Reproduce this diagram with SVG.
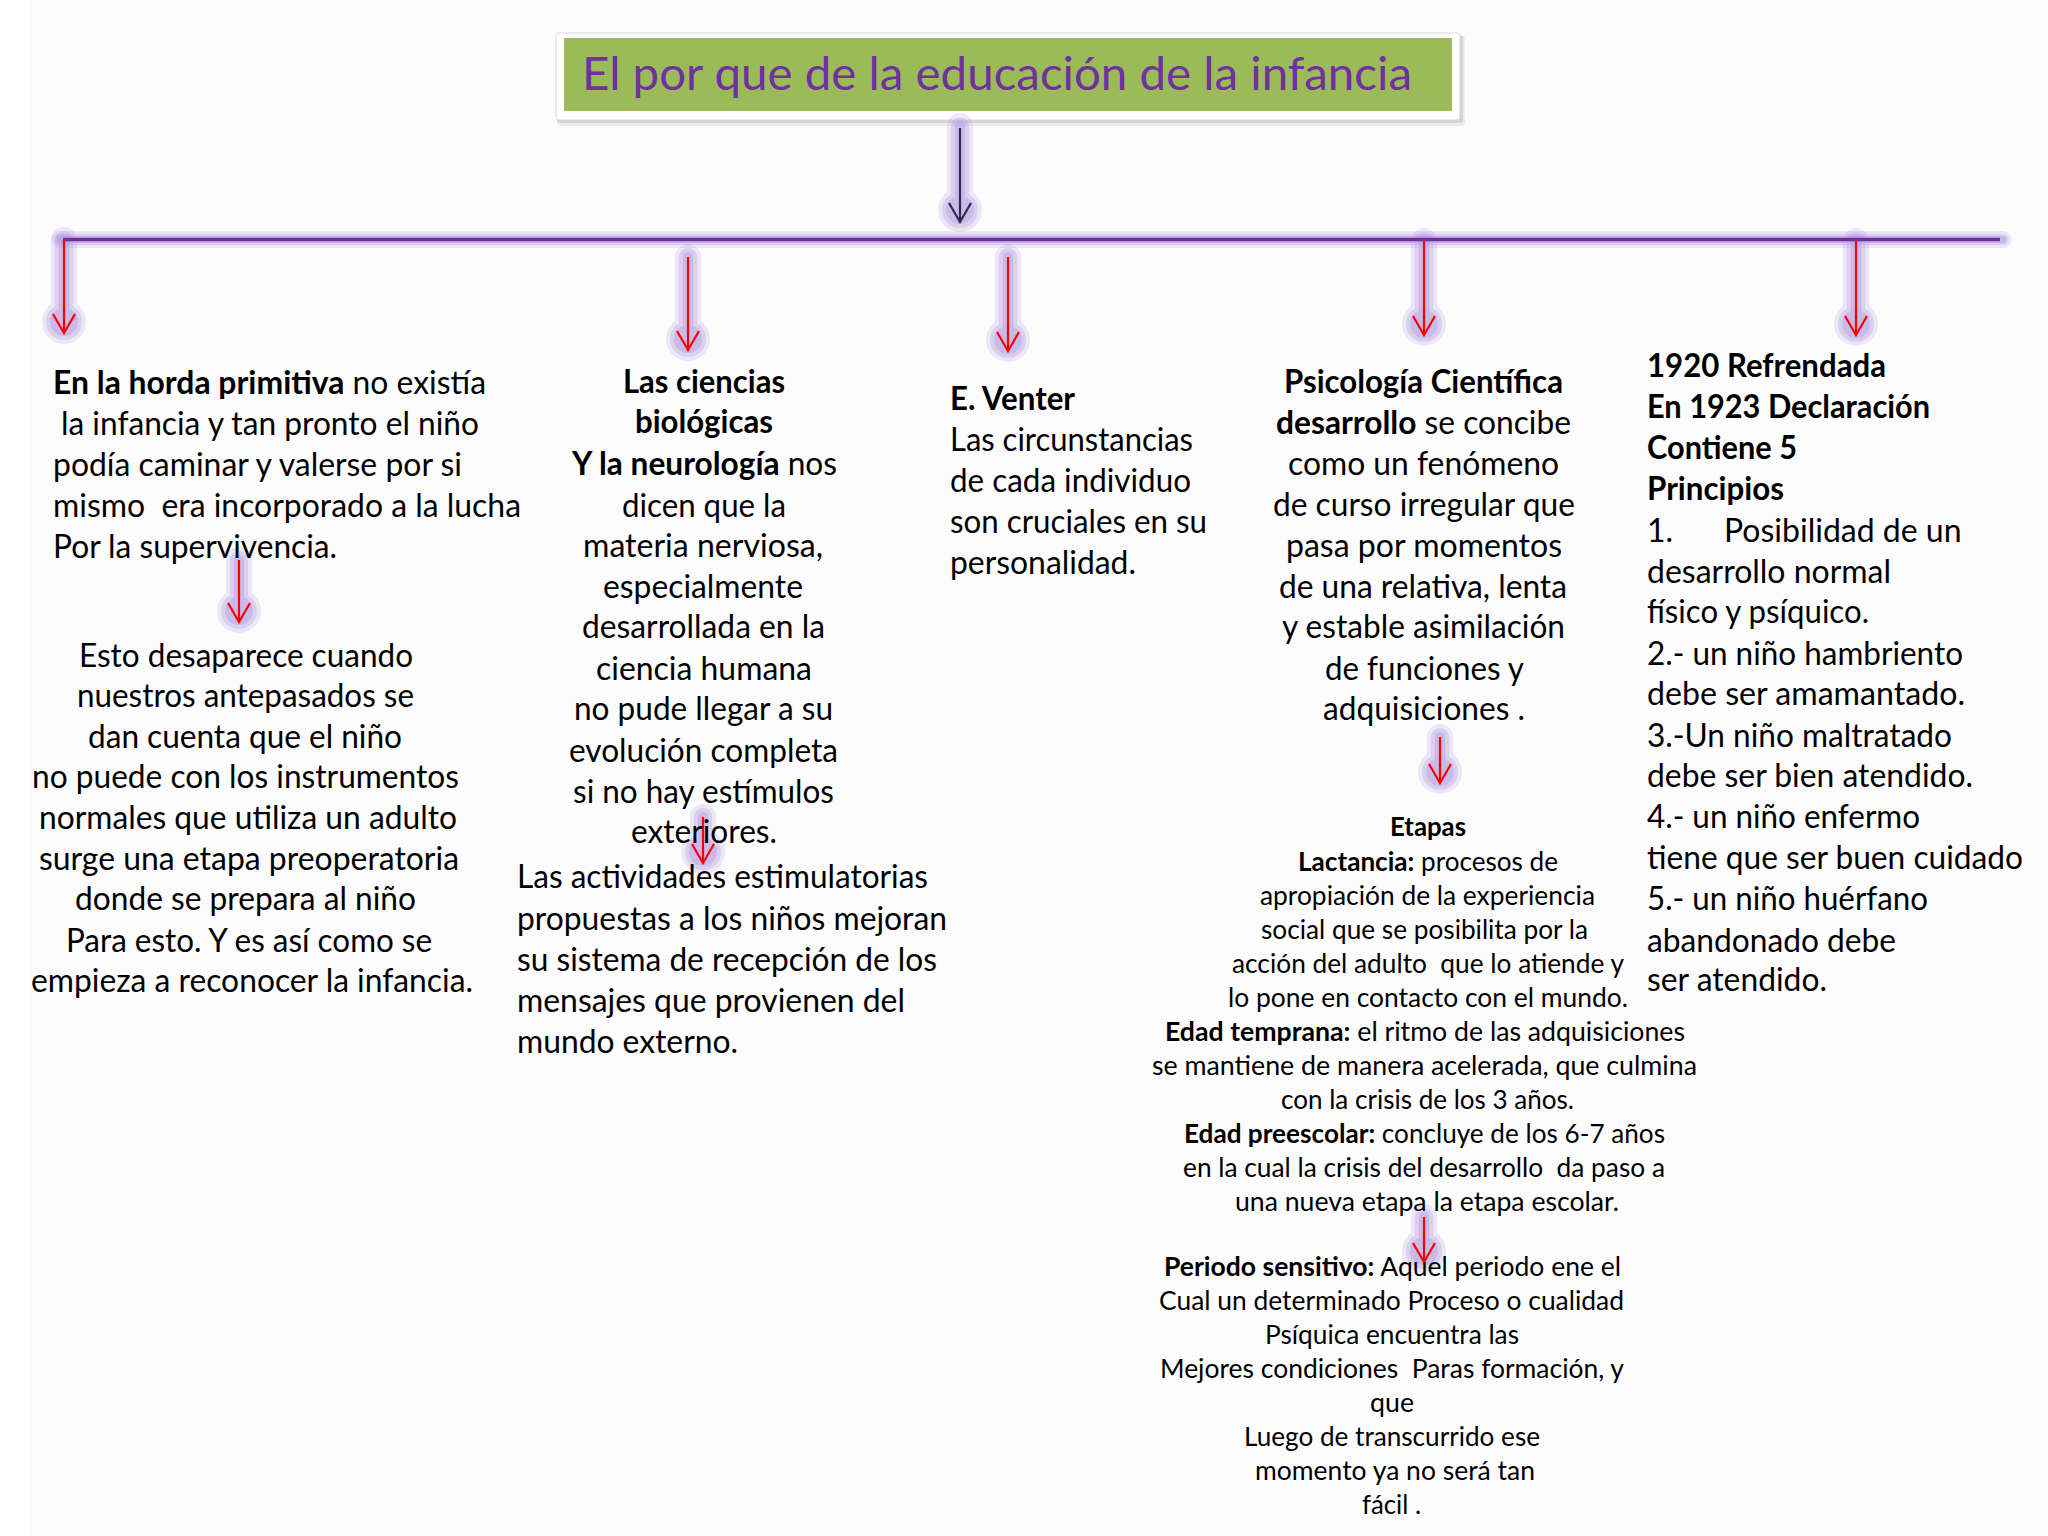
<svg xmlns="http://www.w3.org/2000/svg" xmlns:xlink="http://www.w3.org/1999/xlink" width="2048" height="1536" viewBox="0 0 2048 1536">
<defs>
<style>
text{font-family:Lato,"Liberation Sans",sans-serif;font-size:32px;fill:#000;white-space:pre}
.b{font-weight:700}
.s{font-size:26.5px}
.title{font-size:47px;fill:#7030A0}
.red{stroke:#FF0000;stroke-width:2.2;fill:none}
.dark{stroke:#2F2A4F;stroke-width:2.2;fill:none}
.hline{stroke:#7030A0;stroke-width:3.5;fill:none}
</style>
<g id="gs">
<line x1="960" y1="126" x2="960" y2="218"/>
<circle cx="960" cy="210" r="9"/>
<line x1="64" y1="240" x2="64" y2="330"/>
<circle cx="64" cy="322" r="9"/>
<line x1="688" y1="257" x2="688" y2="347"/>
<circle cx="688" cy="339" r="9"/>
<line x1="1008" y1="257" x2="1008" y2="348"/>
<circle cx="1008" cy="340" r="9"/>
<line x1="1424" y1="241" x2="1424" y2="332"/>
<circle cx="1424" cy="324" r="9"/>
<line x1="1856" y1="241" x2="1856" y2="332"/>
<circle cx="1856" cy="324" r="9"/>
<line x1="239" y1="560" x2="239" y2="619"/>
<circle cx="239" cy="611" r="9"/>
<line x1="703" y1="817" x2="703" y2="860"/>
<circle cx="703" cy="852" r="9"/>
<line x1="1440" y1="737" x2="1440" y2="780"/>
<circle cx="1440" cy="772" r="9"/>
<line x1="1424" y1="1217" x2="1424" y2="1259"/>
<circle cx="1424" cy="1251" r="9"/>
</g>
<line id="hs" x1="60" y1="239.5" x2="2003" y2="239.5"/>
<marker id="ahRed" viewBox="-22 -13 24 26" refX="0" refY="0" markerWidth="24" markerHeight="26" markerUnits="userSpaceOnUse" orient="auto">
<path d="M-19,-11 L0,0 L-19,11" fill="none" stroke="#FF0000" stroke-width="2.2"/>
</marker>
<marker id="ahDark" viewBox="-22 -13 24 26" refX="0" refY="0" markerWidth="24" markerHeight="26" markerUnits="userSpaceOnUse" orient="auto">
<path d="M-19,-11 L0,0 L-19,11" fill="none" stroke="#2F2A4F" stroke-width="2.2"/>
</marker>
</defs>
<rect x="0" y="0" width="2048" height="1536" fill="#FDFCFD"/>
<rect x="0" y="0" width="30" height="1536" fill="#FFFFFF"/>

<g id="title">
<rect x="557" y="36" width="908" height="90" rx="4" fill="#000" opacity="0.06"/>
<rect x="557" y="35" width="906" height="88" rx="3" fill="#000" opacity="0.1"/>
<rect x="556" y="33" width="904" height="87" rx="3" fill="#FFFFFF" stroke="#D8D8D8" stroke-width="1"/>
<rect x="564" y="38" width="888" height="73" fill="#9BBB59"/>
<text class="title" x="582" y="90" textLength="830" lengthAdjust="spacingAndGlyphs">El por que de la educación de la infancia</text>
</g>

<g id="connectors">
<g id="glow" stroke="#B29CE2" fill="#B29CE2" stroke-linecap="round">
<use xlink:href="#gs" stroke-width="26" opacity="0.22"/>
<use xlink:href="#gs" stroke-width="18" opacity="0.3"/>
<use xlink:href="#gs" stroke-width="10" opacity="0.4"/>
<use xlink:href="#hs" stroke-width="17" opacity="0.22"/>
<use xlink:href="#hs" stroke-width="11" opacity="0.32"/>
<use xlink:href="#hs" stroke-width="7" opacity="0.45"/>
</g>
<line class="hline" x1="63" y1="239.5" x2="2000" y2="239.5"/>
<line class="dark" x1="960" y1="128" x2="960" y2="222" marker-end="url(#ahDark)"/>
<line class="red" x1="64" y1="240" x2="64" y2="333" marker-end="url(#ahRed)"/>
<line class="red" x1="688" y1="257" x2="688" y2="350" marker-end="url(#ahRed)"/>
<line class="red" x1="1008" y1="257" x2="1008" y2="351" marker-end="url(#ahRed)"/>
<line class="red" x1="1424" y1="241" x2="1424" y2="335" marker-end="url(#ahRed)"/>
<line class="red" x1="1856" y1="241" x2="1856" y2="335" marker-end="url(#ahRed)"/>
<line class="red" x1="239" y1="560" x2="239" y2="622" marker-end="url(#ahRed)"/>
<line class="red" x1="703" y1="817" x2="703" y2="863" marker-end="url(#ahRed)"/>
<line class="red" x1="1440" y1="737" x2="1440" y2="783" marker-end="url(#ahRed)"/>
<line class="red" x1="1424" y1="1217" x2="1424" y2="1262" marker-end="url(#ahRed)"/>
</g>

<g id="horda">
<text x="53" y="394" textLength="433" lengthAdjust="spacingAndGlyphs"><tspan class="b">En la horda primitiva</tspan> no existía</text>
<text x="61" y="435" textLength="418" lengthAdjust="spacingAndGlyphs">la infancia y tan pronto el niño</text>
<text x="53" y="476" textLength="409" lengthAdjust="spacingAndGlyphs">podía caminar y valerse por si</text>
<text x="53" y="517" textLength="468" lengthAdjust="spacingAndGlyphs">mismo  era incorporado a la lucha</text>
<text x="53" y="558" textLength="284" lengthAdjust="spacingAndGlyphs">Por la supervivencia.</text>
</g>

<g id="desaparece">
<text x="79" y="667" textLength="334" lengthAdjust="spacingAndGlyphs">Esto desaparece cuando</text>
<text x="77" y="707" textLength="337" lengthAdjust="spacingAndGlyphs">nuestros antepasados se</text>
<text x="88" y="748" textLength="314" lengthAdjust="spacingAndGlyphs">dan cuenta que el niño</text>
<text x="32" y="788" textLength="427" lengthAdjust="spacingAndGlyphs">no puede con los instrumentos</text>
<text x="39" y="829" textLength="418" lengthAdjust="spacingAndGlyphs">normales que utiliza un adulto</text>
<text x="39" y="870" textLength="420" lengthAdjust="spacingAndGlyphs">surge una etapa preoperatoria</text>
<text x="75" y="910" textLength="341" lengthAdjust="spacingAndGlyphs">donde se prepara al niño</text>
<text x="66" y="952" textLength="366" lengthAdjust="spacingAndGlyphs">Para esto. Y es así como se</text>
<text x="31" y="992" textLength="442" lengthAdjust="spacingAndGlyphs">empieza a reconocer la infancia.</text>
</g>

<g id="ciencias">
<text class="b" x="623" y="393" textLength="162" lengthAdjust="spacingAndGlyphs">Las ciencias</text>
<text class="b" x="635" y="433" textLength="138" lengthAdjust="spacingAndGlyphs">biológicas</text>
<text x="572" y="475" textLength="265" lengthAdjust="spacingAndGlyphs"><tspan class="b">Y la neurología</tspan> nos</text>
<text x="622" y="517" textLength="164" lengthAdjust="spacingAndGlyphs">dicen que la</text>
<text x="583" y="557" textLength="240" lengthAdjust="spacingAndGlyphs">materia nerviosa,</text>
<text x="603" y="598" textLength="200" lengthAdjust="spacingAndGlyphs">especialmente</text>
<text x="582" y="638" textLength="243" lengthAdjust="spacingAndGlyphs">desarrollada en la</text>
<text x="596" y="680" textLength="216" lengthAdjust="spacingAndGlyphs">ciencia humana</text>
<text x="574" y="720" textLength="259" lengthAdjust="spacingAndGlyphs">no pude llegar a su</text>
<text x="569" y="762" textLength="269" lengthAdjust="spacingAndGlyphs">evolución completa</text>
<text x="573" y="803" textLength="261" lengthAdjust="spacingAndGlyphs">si no hay estímulos</text>
<text x="631" y="843" textLength="146" lengthAdjust="spacingAndGlyphs">exteriores.</text>
</g>

<g id="actividades">
<text x="517" y="888" textLength="411" lengthAdjust="spacingAndGlyphs">Las actividades estimulatorias</text>
<text x="517" y="930" textLength="430" lengthAdjust="spacingAndGlyphs">propuestas a los niños mejoran</text>
<text x="517" y="971" textLength="420" lengthAdjust="spacingAndGlyphs">su sistema de recepción de los</text>
<text x="517" y="1012" textLength="388" lengthAdjust="spacingAndGlyphs">mensajes que provienen del</text>
<text x="517" y="1053" textLength="221" lengthAdjust="spacingAndGlyphs">mundo externo.</text>
</g>

<g id="venter">
<text class="b" x="950" y="410" textLength="125" lengthAdjust="spacingAndGlyphs">E. Venter</text>
<text x="950" y="451" textLength="243" lengthAdjust="spacingAndGlyphs">Las circunstancias</text>
<text x="950" y="492" textLength="241" lengthAdjust="spacingAndGlyphs">de cada individuo</text>
<text x="950" y="533" textLength="257" lengthAdjust="spacingAndGlyphs">son cruciales en su</text>
<text x="950" y="574" textLength="186" lengthAdjust="spacingAndGlyphs">personalidad.</text>
</g>

<g id="psicologia">
<text class="b" x="1284" y="393" textLength="279" lengthAdjust="spacingAndGlyphs">Psicología Científica</text>
<text x="1276" y="434" textLength="295" lengthAdjust="spacingAndGlyphs"><tspan class="b">desarrollo</tspan> se concibe</text>
<text x="1288" y="475" textLength="271" lengthAdjust="spacingAndGlyphs">como un fenómeno</text>
<text x="1273" y="516" textLength="302" lengthAdjust="spacingAndGlyphs">de curso irregular que</text>
<text x="1286" y="557" textLength="276" lengthAdjust="spacingAndGlyphs">pasa por momentos</text>
<text x="1279" y="598" textLength="288" lengthAdjust="spacingAndGlyphs">de una relativa, lenta</text>
<text x="1282" y="638" textLength="283" lengthAdjust="spacingAndGlyphs">y estable asimilación</text>
<text x="1325" y="680" textLength="199" lengthAdjust="spacingAndGlyphs">de funciones y</text>
<text x="1323" y="720" textLength="202" lengthAdjust="spacingAndGlyphs">adquisiciones .</text>
</g>

<g id="etapas">
<text class="s b" x="1390" y="836" textLength="76" lengthAdjust="spacingAndGlyphs">Etapas</text>
<text class="s" x="1298" y="871" textLength="260" lengthAdjust="spacingAndGlyphs"><tspan class="b">Lactancia:</tspan> procesos de</text>
<text class="s" x="1260" y="905" textLength="335" lengthAdjust="spacingAndGlyphs">apropiación de la experiencia</text>
<text class="s" x="1261" y="939" textLength="327" lengthAdjust="spacingAndGlyphs">social que se posibilita por la</text>
<text class="s" x="1232" y="973" textLength="392" lengthAdjust="spacingAndGlyphs">acción del adulto  que lo atiende y</text>
<text class="s" x="1228" y="1007" textLength="400" lengthAdjust="spacingAndGlyphs">lo pone en contacto con el mundo.</text>
<text class="s" x="1165" y="1041" textLength="520" lengthAdjust="spacingAndGlyphs"><tspan class="b">Edad temprana:</tspan> el ritmo de las adquisiciones</text>
<text class="s" x="1152" y="1075" textLength="545" lengthAdjust="spacingAndGlyphs">se mantiene de manera acelerada, que culmina</text>
<text class="s" x="1281" y="1109" textLength="293" lengthAdjust="spacingAndGlyphs">con la crisis de los 3 años.</text>
<text class="s" x="1184" y="1143" textLength="481" lengthAdjust="spacingAndGlyphs"><tspan class="b">Edad preescolar:</tspan> concluye de los 6-7 años</text>
<text class="s" x="1183" y="1177" textLength="482" lengthAdjust="spacingAndGlyphs">en la cual la crisis del desarrollo  da paso a</text>
<text class="s" x="1235" y="1211" textLength="384" lengthAdjust="spacingAndGlyphs">una nueva etapa la etapa escolar.</text>
</g>

<g id="periodo">
<text class="s" x="1164" y="1276" textLength="457" lengthAdjust="spacingAndGlyphs"><tspan class="b">Periodo sensitivo:</tspan> Aquel periodo ene el</text>
<text class="s" x="1159" y="1310" textLength="465" lengthAdjust="spacingAndGlyphs">Cual un determinado Proceso o cualidad</text>
<text class="s" x="1265" y="1344" textLength="254" lengthAdjust="spacingAndGlyphs">Psíquica encuentra las</text>
<text class="s" x="1160" y="1378" textLength="464" lengthAdjust="spacingAndGlyphs">Mejores condiciones  Paras formación, y</text>
<text class="s" x="1370" y="1412" textLength="44" lengthAdjust="spacingAndGlyphs">que</text>
<text class="s" x="1244" y="1446" textLength="296" lengthAdjust="spacingAndGlyphs">Luego de transcurrido ese</text>
<text class="s" x="1255" y="1480" textLength="280" lengthAdjust="spacingAndGlyphs">momento ya no será tan</text>
<text class="s" x="1362" y="1514" textLength="59" lengthAdjust="spacingAndGlyphs">fácil .</text>
</g>

<g id="principios">
<text class="b" x="1647" y="377" textLength="239" lengthAdjust="spacingAndGlyphs">1920 Refrendada</text>
<text class="b" x="1647" y="418" textLength="283" lengthAdjust="spacingAndGlyphs">En 1923 Declaración</text>
<text class="b" x="1647" y="459" textLength="150" lengthAdjust="spacingAndGlyphs">Contiene 5</text>
<text class="b" x="1647" y="500" textLength="137" lengthAdjust="spacingAndGlyphs">Principios</text>
<text x="1647" y="542">1.<tspan x="1724">Posibilidad de un</tspan></text>
<text x="1647" y="583" textLength="244" lengthAdjust="spacingAndGlyphs">desarrollo normal</text>
<text x="1647" y="623" textLength="222" lengthAdjust="spacingAndGlyphs">físico y psíquico.</text>
<text x="1647" y="665" textLength="316" lengthAdjust="spacingAndGlyphs">2.- un niño hambriento</text>
<text x="1647" y="705" textLength="318" lengthAdjust="spacingAndGlyphs">debe ser amamantado.</text>
<text x="1647" y="747" textLength="305" lengthAdjust="spacingAndGlyphs">3.-Un niño maltratado</text>
<text x="1647" y="787" textLength="326" lengthAdjust="spacingAndGlyphs">debe ser bien atendido.</text>
<text x="1647" y="828" textLength="273" lengthAdjust="spacingAndGlyphs">4.- un niño enfermo</text>
<text x="1647" y="869" textLength="376" lengthAdjust="spacingAndGlyphs">tiene que ser buen cuidado</text>
<text x="1647" y="910" textLength="281" lengthAdjust="spacingAndGlyphs">5.- un niño huérfano</text>
<text x="1647" y="952" textLength="249" lengthAdjust="spacingAndGlyphs">abandonado debe</text>
<text x="1647" y="991" textLength="180" lengthAdjust="spacingAndGlyphs">ser atendido.</text>
</g>
</svg>
